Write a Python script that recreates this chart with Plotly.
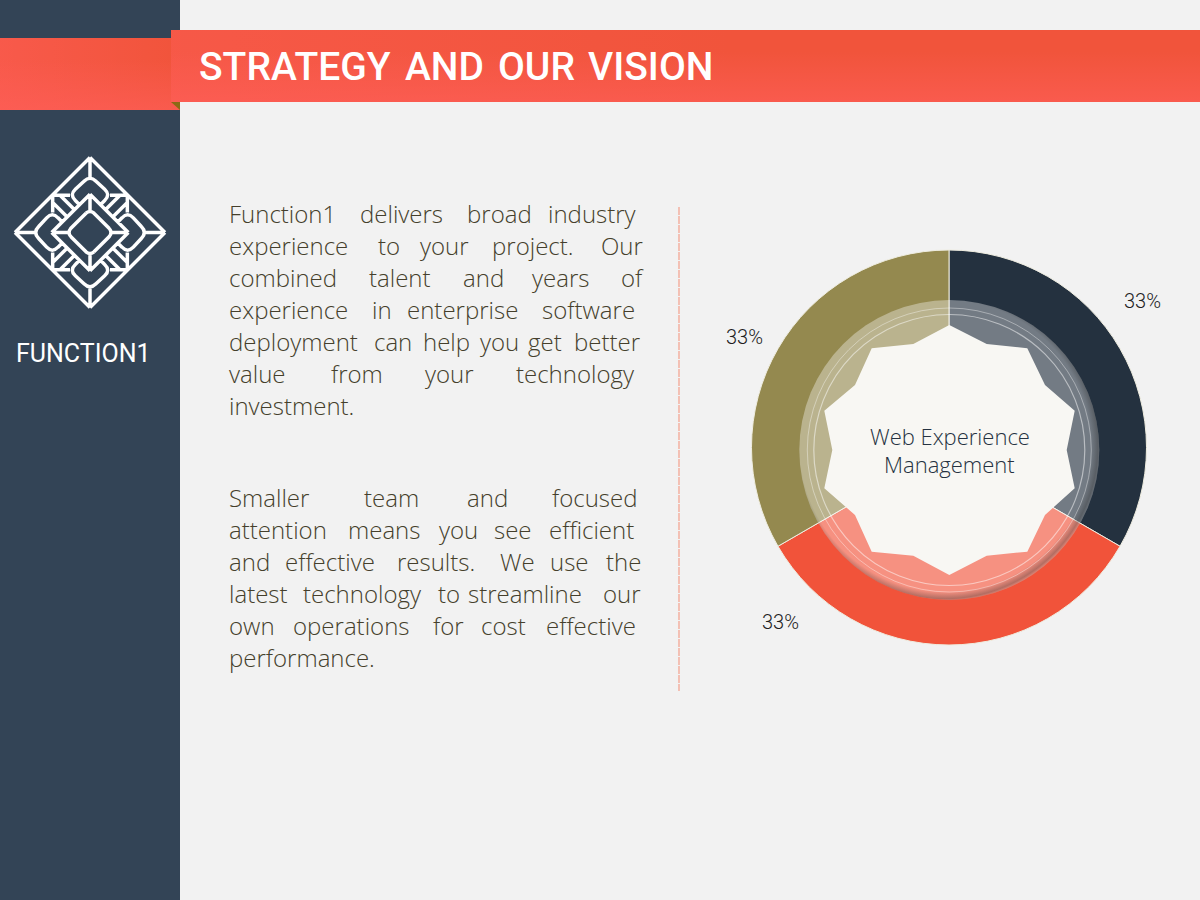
import math
from urllib.parse import quote

import plotly.graph_objects as go

# pie values and labels
SLICE_NAMES = ["Navy", "Red", "Olive"]
SLICE_VALUES = [33, 33, 33]
SLICE_COLORS = ["#24313F", "#F1533A", "#94894F"]

TITLE_WORDS = ["STRATEGY", "AND", "OUR", "VISION"]
CENTER_LINES = ["Web Experience", "Management"]
BRAND = "FUNCTION1"

# body copy, one entry per printed line
BODY_LINES = [
    "Function1 delivers broad industry",
    "experience to your project. Our",
    "combined talent and years of",
    "experience in enterprise software",
    "deployment can help you get better",
    "value from your technology",
    "investment.",
    "Smaller team and focused",
    "attention means you see efficient",
    "and effective results. We use the",
    "latest technology to streamline our",
    "own operations for cost effective",
    "performance.",
]

BODY_FONT = "Open Sans"
TEXT_COLOR = "#453F2C"
SIDEBAR = "#334456"
PAGE_BG = "#F2F2F2"

# the copy is justified, so each word gets its own left edge
BODY_Y = [213, 245, 277, 309, 341, 373, 405, 497, 529, 561, 593, 625, 657]
BODY_WORD_X = [
    [228, 359, 466, 547],
    [228, 377, 419, 491, 600],
    [228, 368, 462, 531, 620],
    [228, 371, 406, 541],
    [228, 373, 422, 479, 527, 573],
    [228, 330, 424, 515],
    [228],
    [228, 363, 466, 551],
    [228, 347, 438, 493, 548],
    [228, 284, 396, 499, 549, 605],
    [228, 302, 437, 467, 602],
    [228, 292, 432, 480, 545],
    [228],
]
TITLE_X = [198, 404, 497, 587]


def gradient_uri(w, h, span, alpha):
    # band fill: orange red base, coral creeping in from the left and the bottom
    svg = (
        f"<svg xmlns='http://www.w3.org/2000/svg' width='{w}' height='{h}' viewBox='0 0 {w} {h}' preserveAspectRatio='none'>"
        f"<defs><linearGradient id='g' gradientUnits='userSpaceOnUse' x1='0' y1='0' x2='{span}' y2='0'>"
        f"<stop offset='0' stop-color='#FF5F5A' stop-opacity='{alpha}'/><stop offset='1' stop-color='#FF5F5A' stop-opacity='0'/></linearGradient>"
        "<linearGradient id='v' x1='0' y1='0' x2='0' y2='1'>"
        "<stop offset='0.3' stop-color='#FF5F5A' stop-opacity='0'/><stop offset='1' stop-color='#FF5F5A' stop-opacity='0.6'/></linearGradient></defs>"
        f"<rect width='{w}' height='{h}' fill='#F1543B'/><rect width='{w}' height='{h}' fill='url(#g)'/><rect width='{w}' height='{h}' fill='url(#v)'/></svg>"
    )
    return "data:image/svg+xml," + quote(svg)


def disc_uri():
    # glass disc with its dark rim falling to the lower right
    svg = (
        "<svg xmlns='http://www.w3.org/2000/svg' width='304' height='304' viewBox='0 0 304 304'>"
        "<defs><radialGradient id='r' gradientUnits='userSpaceOnUse' cx='148' cy='148' r='155'>"
        "<stop offset='0.94' stop-color='#222222' stop-opacity='0'/>"
        "<stop offset='0.985' stop-color='#222222' stop-opacity='0.32'/>"
        "<stop offset='1' stop-color='#222222' stop-opacity='0.15'/></radialGradient></defs>"
        "<circle cx='152' cy='152' r='150' fill='#FFFFFF' fill-opacity='0.36'/>"
        "<circle cx='152' cy='152' r='150' fill='url(#r)'/></svg>"
    )
    return "data:image/svg+xml," + quote(svg)


def logo_path(cx, cy):
    # one quarter of the knot in 3x units, turned four times
    quarter = [
        [("M", -30, -82), ("L", -44, -96), ("Q", -62, -113, -44, -130), ("L", -18, -154),
         ("Q", 0, -172, 18, -154), ("L", 44, -130), ("Q", 62, -113, 44, -96), ("L", 30, -82)],
        [("M", 0, -225), ("L", 0, -165)],
        [("M", -90, -112), ("L", -47, -69)],
        [("M", 90, -112), ("L", 47, -69)],
        [("M", -113, -112), ("L", -60, -112)],
        [("M", 113, -112), ("L", 60, -112)],
        [("M", 0, -115), ("L", 0, -66)],
        [("M", 0, -225), ("L", 225, 0)],
        [("M", 0, -115), ("L", 115, 0)],
        [("M", -12, -58), ("Q", 0, -68, 12, -58), ("L", 58, -12)],
    ]
    out = []
    for turn in range(4):
        c, s = math.cos(turn * math.pi / 2), math.sin(turn * math.pi / 2)
        for seg in quarter:
            for cmd in seg:
                pts = cmd[1:]
                coords = []
                for i in range(0, len(pts), 2):
                    x, y = pts[i], pts[i + 1]
                    coords.append(f"{cx + (x * c - y * s) / 3:.2f},{cy + (x * s + y * c) / 3:.2f}")
                out.append(cmd[0] + " ".join(coords))
    return " ".join(out)


def circle(cx, cy, r, **kw):
    return dict(type="circle", xref="x", yref="y", x0=cx - r, x1=cx + r, y0=cy - r, y1=cy + r, layer="above", **kw)


fig = go.Figure()

fig.add_trace(go.Pie(
    labels=SLICE_NAMES,
    values=SLICE_VALUES,
    marker=dict(colors=SLICE_COLORS, line=dict(color="#EFEDE0", width=1)),
    sort=False,
    direction="clockwise",
    rotation=0,
    textinfo="none",
    hoverinfo="skip",
    showlegend=False,
    domain=dict(x=[(949 - 197.5) / 1200, (949 + 197.5) / 1200], y=[(900 - 447.5 - 197.5) / 900, (900 - 447.5 + 197.5) / 900]),
))

# inner star
star = [(628, 255), (740, 312), (862, 325), (915, 435), (1004, 512), (980, 630), (1004, 745), (915, 825),
        (862, 935), (740, 947), (628, 1005), (520, 947), (395, 935), (345, 825), (253, 745), (277, 630),
        (253, 512), (345, 435), (395, 325), (520, 312)]
star_path = "M" + " L".join(f"{740 + x / 3:.1f},{240 + y / 3:.1f}" for x, y in star) + " Z"

shapes = [
    dict(type="rect", xref="x", yref="y", x0=0, x1=180, y0=0, y1=900, fillcolor=SIDEBAR, line_width=0, layer="below"),
    dict(type="path", xref="x", yref="y", path="M171,102 L180,102 L180,110 Z", fillcolor="#8C6A14", line_width=0, layer="above"),
    dict(type="path", xref="x", yref="y", path=logo_path(90, 232.5), line=dict(color="white", width=3.5),
         fillcolor="rgba(0,0,0,0)", layer="above"),
    dict(type="line", xref="x", yref="y", x0=679, x1=679, y0=207, y1=691,
         line=dict(color="#F4A08C", width=1.2, dash="8px,1px"), layer="above"),
    circle(949.3, 450, 142, fillcolor="rgba(0,0,0,0)", line=dict(color="rgba(255,255,255,0.38)", width=1)),
    circle(949.3, 450, 135.5, fillcolor="rgba(0,0,0,0)", line=dict(color="rgba(255,255,255,0.5)", width=1.2)),
    dict(type="path", xref="x", yref="y", path=star_path, fillcolor="#F8F7F3", line_width=0, layer="above"),
]

images = [
    dict(source=gradient_uri(180, 72, 180, 0.5), xref="x", yref="y", x=0, y=38, sizex=180, sizey=72,
         xanchor="left", yanchor="top", sizing="stretch", layer="above"),
    dict(source=gradient_uri(1029, 72, 560, 0.4), xref="x", yref="y", x=171, y=30, sizex=1029, sizey=72,
         xanchor="left", yanchor="top", sizing="stretch", layer="above"),
    dict(source=disc_uri(), xref="x", yref="y", x=797.3, y=298, sizex=304, sizey=304,
         xanchor="left", yanchor="top", sizing="stretch", layer="above"),
]

annotations = []


def put(text, x, y, size, color, family=BODY_FONT, anchor="left", weight=None):
    font = dict(family=family, size=size, color=color)
    if weight:
        font["weight"] = weight
    annotations.append(dict(text=text, x=x, y=y, xref="x", yref="y", xanchor=anchor, yanchor="middle",
                            showarrow=False, font=font, borderpad=0))


for word, x in zip(TITLE_WORDS, TITLE_X):
    put(word, x, 67, 39, "white", family="Roboto", weight=500)

put(BRAND, 15, 353, 25, "white", family="Roboto")

for line, y, xs in zip(BODY_LINES, BODY_Y, BODY_WORD_X):
    for word, x in zip(line.split(), xs):
        put(word, x, y, 24, TEXT_COLOR, weight=300)

for line, y in zip(CENTER_LINES, [436, 464]):
    put(line, 949.5, y, 22, "#253241", anchor="center", weight=300)

# percent labels sit well off the ring in the reference
for value, (x, y) in zip(SLICE_VALUES, [(1142.5, 301), (780.5, 622), (744.5, 337)]):
    put(f"{value}%", x, y, 20, "#1E1E1E", family="Roboto", anchor="center", weight=300)

fig.update_layout(
    width=1200,
    height=900,
    margin=dict(l=0, r=0, t=0, b=0),
    paper_bgcolor=PAGE_BG,
    plot_bgcolor=PAGE_BG,
    xaxis=dict(range=[0, 1200], visible=False, fixedrange=True),
    yaxis=dict(range=[900, 0], visible=False, fixedrange=True),
    shapes=shapes,
    images=images,
    annotations=annotations,
    showlegend=False,
    hovermode=False,
)

fig.write_html("out.html", config=dict(displayModeBar=False), post_script="document.body.style.margin='0';")
